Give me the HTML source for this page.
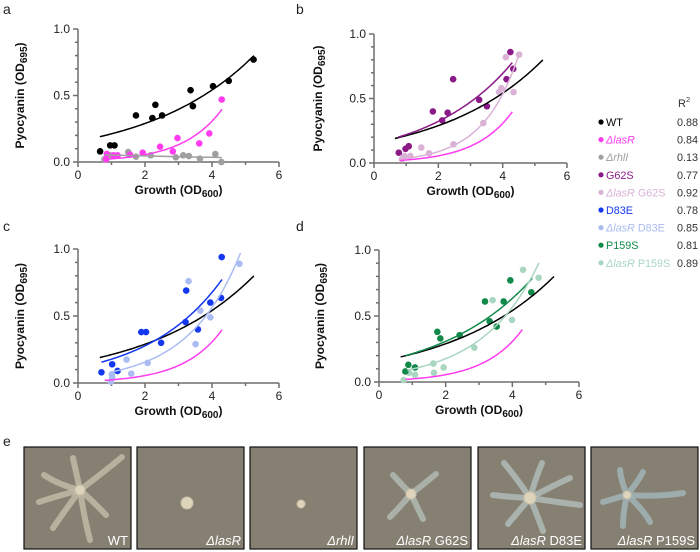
<!DOCTYPE html>
<html><head><meta charset="utf-8">
<style>
body{margin:0;background:#fff;}
svg{display:block;font-family:"Liberation Sans",sans-serif;}
</style></head>
<body>
<svg id="fig" width="700" height="552" viewBox="0 0 700 552"></svg>
<script>
// ---- data (x: growth OD600, y: pyocyanin OD695) ----
const wtX=[0.66,0.96,1.09,1.73,2.22,2.31,2.51,3.36,3.43,4.03,4.5,5.24];
const wtY=[0.08,0.125,0.125,0.35,0.33,0.43,0.35,0.54,0.42,0.57,0.61,0.77];
const lasX=[0.84,0.86,1.06,1.18,1.55,1.93,2.45,2.83,2.97,3.62,3.92,4.29];
const lasY=[0.02,0.06,0.05,0.05,0.055,0.07,0.115,0.08,0.18,0.14,0.215,0.47];
const rhlX=[0.79,0.96,1.5,1.73,2.17,2.92,3.14,3.31,3.64,4.1,4.28];
const rhlY=[0.02,0.05,0.075,0.04,0.05,0.035,0.05,0.045,0.025,0.06,0.0];
const g62X=[0.77,0.98,1.08,1.83,2.12,2.29,2.46,3.27,3.51,4.12,4.24,4.33];
const g62Y=[0.08,0.11,0.13,0.40,0.33,0.39,0.65,0.49,0.44,0.65,0.86,0.73];
const lg62X=[0.87,0.94,1.13,1.47,1.71,2.47,3.4,3.89,3.96,4.1,4.34,4.51];
const lg62Y=[0.03,0.055,0.055,0.12,0.075,0.145,0.31,0.55,0.58,0.82,0.55,0.84];
const d83X=[0.70,1.02,1.18,1.89,2.03,2.48,3.23,3.21,3.58,3.95,4.27,4.29];
const d83Y=[0.08,0.14,0.09,0.38,0.38,0.30,0.69,0.455,0.40,0.60,0.635,0.94];
const ld83X=[0.98,1.01,1.02,1.45,1.59,2.08,3.3,3.51,3.65,3.95,4.82];
const ld83Y=[0.01,0.065,0.045,0.175,0.07,0.15,0.76,0.29,0.54,0.49,0.89];
const p159X=[0.79,0.88,1.08,1.75,1.84,2.42,3.18,3.32,3.53,3.74,3.94,4.57];
const p159Y=[0.08,0.13,0.11,0.38,0.33,0.355,0.61,0.46,0.42,0.61,0.77,0.68];
const lp159X=[0.74,0.9,1.08,1.63,1.65,1.94,2.86,3.41,3.99,4.32,4.79];
const lp159Y=[0.015,0.07,0.055,0.14,0.07,0.11,0.26,0.62,0.47,0.85,0.79];
// exponential fit y = a*exp(b*x), over [xmin,xmax]
const fitNames=['WT','lasR','rhlI','G62S','lasR G62S','D83E','lasR D83E','P159S','lasR P159S'];
const fitA=[0.155,0.01,0.059,0.15,0.0146,0.114,0.0435,0.15,0.055];
const fitB=[0.3125,0.856,-0.13,0.383,0.9,0.445,0.64,0.36,0.583];
const fitMin=[0.65,0.8,0.8,0.75,0.8,0.7,0.95,0.8,0.85];
const fitMax=[5.25,4.3,4.3,4.3,4.5,4.3,4.85,4.6,4.8];
const r2=['0.88','0.84','0.13','0.77','0.92','0.78','0.85','0.81','0.89'];
const xTicks=[0,2,4,6];
const yTicks=['0.0','0.5','1.0'];

const colors=['#000000','#ff3cf0','#a0a0a0','#8a1a88','#d9b2d6','#1438f0','#aabcf2','#11894a','#a9d6c0'];
const NS='http://www.w3.org/2000/svg';
const svg=document.getElementById('fig');
function el(tag,attrs,parent,txt){const e=document.createElementNS(NS,tag);for(const k in attrs)e.setAttribute(k,attrs[k]);if(txt!==undefined)e.textContent=txt;(parent||svg).appendChild(e);return e;}

const panels=[
 {id:'a',x0:78,x6:279,y0:162,y1:29,lx:3,ly:14,tx:20,sets:[[wtX,wtY,0],[lasX,lasY,1],[rhlX,rhlY,2]],fits:[0,1,2]},
 {id:'b',x0:374,x6:567,y0:163,y1:34,lx:296,ly:14,tx:318,sets:[[g62X,g62Y,3],[lg62X,lg62Y,4]],fits:[0,1,3,4]},
 {id:'c',x0:78,x6:279,y0:383,y1:249,lx:3,ly:231,tx:20,sets:[[d83X,d83Y,5],[ld83X,ld83Y,6]],fits:[0,1,5,6]},
 {id:'d',x0:379,x6:579,y0:382,y1:250,lx:296,ly:231,tx:320,sets:[[p159X,p159Y,7],[lp159X,lp159Y,8]],fits:[0,1,7,8]}
];
panels.forEach(p=>{
  const g=el('g',{});
  
  
  const sx=v=>p.x0+(p.x6-p.x0)*v/6;
  const sy=v=>p.y0-(p.y0-p.y1)*v;
  const lab=el('text',{x:p.lx,y:p.ly,'font-size':14,fill:'#222'},g,p.id);
  
  
  const ax=el('g',{stroke:'#6e6e6e','stroke-width':1.5,fill:'none'},g);
  
  
  el('line',{x1:p.x0,y1:p.y0,x2:p.x6,y2:p.y0},ax);
  el('line',{x1:p.x0,y1:p.y0,x2:p.x0,y2:p.y1},ax);
  for(let i=0;i<=10;i++){const yy=sy(i/10);const len=(i%5==0)?5:3;el('line',{x1:p.x0-len,y1:yy,x2:p.x0,y2:yy},ax);}
  for(let i=0;i<=6;i++){const xx=sx(i);const len=(i%2==0)?5:3;el('line',{x1:xx,y1:p.y0,x2:xx,y2:p.y0+len},ax);}
  xTicks.forEach(t=>{const e=el('text',{x:sx(t),y:p.y0+17,'font-size':12,'text-anchor':'middle',fill:'#222'},g,String(t));});
  yTicks.forEach(t=>{const e=el('text',{x:p.x0-8,y:sy(parseFloat(t))+4,'font-size':12,'text-anchor':'end',fill:'#222'},g,t);});
  const xt=el('text',{x:(p.x0+p.x6)/2,y:p.y0+32,'font-size':12,'font-weight':'bold','text-anchor':'middle',fill:'#111'},g);
  xt.innerHTML='Growth (OD<tspan font-size="10" dy="3">600</tspan><tspan dy="-3">)</tspan>';
  
  
  const yt=el('text',{x:0,y:0,'font-size':12,'font-weight':'bold','text-anchor':'middle',fill:'#111',transform:`translate(${p.tx+4},${(p.y0+p.y1)/2}) rotate(-90)`},g);
  yt.innerHTML='Pyocyanin (OD<tspan font-size="10" dy="3">695</tspan><tspan dy="-3">)</tspan>';
  
  
  p.sets.slice().reverse().forEach(s=>{
    const [xs,ys,ci]=s;
    xs.forEach((x,i)=>{const c=el('circle',{cx:sx(x),cy:sy(ys[i]),r:3.3,fill:colors[ci]},g);
      
      });
  });
  p.fits.forEach(fi=>{
    let d='';
    for(let k=0;k<=60;k++){const x=fitMin[fi]+(fitMax[fi]-fitMin[fi])*k/60;const y=fitA[fi]*Math.exp(fitB[fi]*x);d+=(k?'L':'M')+sx(x).toFixed(1)+','+sy(y).toFixed(1);}
    const pa=el('path',{d:d,fill:'none',stroke:colors[fi],'stroke-width':1.5},g);
    
    
  });
});
// legend
const lg=el('g',{});


const hdr=el('text',{x:678,y:107,'font-size':11,fill:'#333'},lg);
hdr.innerHTML='R<tspan font-size="7.5" dy="-5">2</tspan>';
const legHtml=['WT','<tspan font-style="italic">ΔlasR</tspan>','<tspan font-style="italic">ΔrhlI</tspan>','G62S','<tspan font-style="italic">ΔlasR</tspan> G62S','D83E','<tspan font-style="italic">ΔlasR</tspan> D83E','P159S','<tspan font-style="italic">ΔlasR</tspan> P159S'];
legHtml.forEach((h,i)=>{
  const y=122+i*17.6;
  const row=el('g',{},lg);
  
  
  el('circle',{cx:601,cy:y,r:2.6,fill:colors[i]},row);
  const t=el('text',{x:606,y:y+4,'font-size':10.8,fill:colors[i]},row);t.innerHTML=h;
  el('text',{x:677,y:y+4,'font-size':10.8,fill:'#333'},row,r2[i]);
});
// panel e
const le=el('text',{x:3,y:446,'font-size':14,fill:'#222'},svg,'e');


const plateX=[24,137,250,364,478,591];
const plateLabels=['WT','<tspan font-style="italic">ΔlasR</tspan>','<tspan font-style="italic">ΔrhlI</tspan>','<tspan font-style="italic">ΔlasR</tspan> G62S','<tspan font-style="italic">ΔlasR</tspan> D83E','<tspan font-style="italic">ΔlasR</tspan> P159S'];
const armCol=['#c4bda9','#d6cfba','#dcd4c0','#b3bdb6','#b2bebc','#a3b6ba'];
const centers=[[56,43],[50,56],[51,57],[47,47],[52,51],[36,48]];
const arms=[
 [[[52,25],[49,11]],[[80,25],[98,10]],[[35,38],[20,28]],[[30,50],[15,55]],[[42,62],[29,81]],[[60,70],[66,93]],[[70,55],[82,68]]],
 [],[],
 [[[38,38],[29,28]],[[60,37],[72,27]],[[36,60],[26,70]],[[53,60],[59,72]]],
 [[[58,30],[64,16]],[[38,30],[26,16]],[[72,40],[92,31]],[[30,50],[15,48]],[[78,55],[102,58]],[[40,65],[30,77]],[[60,70],[65,84]]],
 [[[30,34],[29,23]],[[46,36],[52,25]],[[22,52],[12,55]],[[68,50],[92,46]],[[32,65],[32,79]],[[52,62],[59,75]]]
];
const dotR=[5,6,4,5,6,4];
plateX.forEach((px,i)=>{
  const g=el('g',{transform:`translate(${px},447)`});
  
  
  el('rect',{x:0,y:0,width:107,height:102,fill:'#868073',stroke:'#111','stroke-width':1.2},g);
  const [cx,cy]=centers[i];
  arms[i].forEach(a=>{
    el('path',{d:`M${cx},${cy} Q${a[0][0]},${a[0][1]} ${a[1][0]},${a[1][1]}`,fill:'none',stroke:armCol[i],'stroke-width':6,'stroke-linecap':'round',opacity:0.8},g);
  });
  el('circle',{cx:cx,cy:cy,r:dotR[i],fill:'#ded4bb',stroke:'#c9c0a8','stroke-width':1},g);
  const t=el('text',{x:104,y:98,'font-size':13,'text-anchor':'end',fill:'#ffffff'},g);
  t.innerHTML=plateLabels[i];
});
</script>
</body></html>
